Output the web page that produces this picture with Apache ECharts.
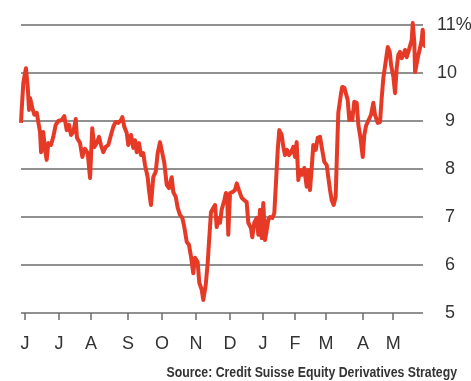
<!doctype html>
<html lang="en">
<head>
    <meta charset="utf-8">
    <title>Volatility - Credit Suisse</title>
    <script src="https://cdn.jsdelivr.net/npm/echarts@6.0.0/dist/echarts.min.js"></script>
    <style>
        html, body { margin: 0; padding: 0; background: #fff; }
        #main { width: 471px; height: 381px; }
    </style>
</head>
<body>
    <div id="main"></div>

    <script type="text/javascript">
    // days since the start of the series (one year, late May to late May)
    var days = [
        0, 0.6, 2.1, 4.5, 6.1, 7.3, 8.2, 10.3, 12.1, 14.3, 15.7, 17.3, 18.2, 20.2, 21.8, 23.3, 24.8,
        27.2, 29.3, 31.5, 33.9, 37.0, 39.3, 41.5, 43.6, 45.4, 47.5, 49.7, 50.8, 53.6, 55.7, 58.1,
        60.6, 62.7, 64.7, 66.6, 68.7, 70.8, 72.6, 74.7, 76.9, 79.3, 81.7, 83.8, 86.0, 88.3, 90.8,
        92.0, 93.8, 96.0, 97.4, 99.9, 102.0, 103.5, 105.1, 107.1, 109.0, 111.0, 112.6, 115.0, 116.2,
        118.0, 120.1, 122.3, 124.1, 126.2, 128.3, 130.1, 132.3, 134.4, 136.8, 138.3, 140.5, 142.3,
        144.4, 146.5, 148.3, 150.5, 152.5, 154.4, 156.4, 158.0, 160.4, 161.9, 164.1, 165.5, 167.7,
        169.5, 171.0, 172.5, 174.6, 176.2, 177.7, 179.1, 180.7, 182.2, 184.6, 186.1, 187.2, 188.2,
        189.8, 191.9, 194.3, 195.9, 197.9, 200.4, 202.8, 204.9, 206.4, 208.8, 210.0, 211.8, 214.0,
        215.5, 217.0, 218.6, 220.0, 221.6, 223.1, 224.5, 226.1, 228.2, 230.0, 231.3, 233.1, 234.5,
        236.7, 238.2, 239.7, 241.5, 243.3, 245.2, 247.2, 248.8, 250.3, 251.8, 253.3, 255.4, 257.2,
        259.4, 260.9, 262.4, 264.0, 265.4, 267.6, 269.4, 271.5, 273.0, 275.4, 277.6, 279.0, 280.6,
        282.1, 283.9, 285.7, 286.9, 288.1, 289.7, 290.6, 291.7, 293.6, 294.8, 296.6, 298.1, 299.6,
        300.8, 302.6, 304.8, 306.3, 308.1, 310.3, 311.7, 313.3, 314.8, 316.0, 317.8, 319.9, 321.4,
        323.9, 326.0, 327.5, 329.0, 331.1, 333.0, 334.8, 336.0, 338.1, 339.6, 341.1, 342.6, 344.1,
        345.7, 347.1, 348.7, 350.2, 351.7, 353.2, 354.8, 355.7, 357.1, 357.8, 359.3, 360.8, 362.3,
        363.8, 364.7, 366.2, 367.5
    ];
    // implied volatility, %
    var vol = [
        8.96, 9.23, 9.79, 10.1, 9.71, 9.23, 9.48, 9.27, 9.13, 9.17, 8.98, 8.77, 8.35, 8.77, 8.4, 8.19, 8.54,
        8.5, 8.67, 8.92, 9.0, 9.02, 9.1, 8.81, 8.92, 8.71, 8.77, 9.04, 8.65, 8.54, 8.25, 8.42,
        8.33, 7.81, 8.85, 8.46, 8.54, 8.67, 8.5, 8.35, 8.46, 8.5, 8.71, 8.88, 8.98, 8.96, 9.02,
        9.08, 8.88, 8.75, 8.5, 8.71, 8.44, 8.6, 8.35, 8.54, 8.29, 8.33, 8.08, 7.83, 7.56,
        7.25, 7.83, 7.94, 8.33, 8.56, 8.33, 8.13, 7.67, 7.6, 7.83, 7.52, 7.42, 7.19,
        7.04, 6.98, 6.79, 6.48, 6.42, 6.17, 5.83, 6.15, 6.06, 5.63, 5.48, 5.27, 5.58,
        6.04, 6.58, 7.1, 7.19, 7.25, 6.79, 6.98, 6.88, 7.15, 7.35, 7.5, 7.42, 6.63,
        7.5, 7.52, 7.56, 7.7, 7.56, 7.4, 7.35, 7.31, 6.88, 6.77, 6.58, 6.88, 6.98,
        6.63, 7.15, 6.56, 7.29, 6.52, 6.73, 6.94, 7.0, 6.98, 7.08, 7.63, 8.4, 8.81,
        8.71, 8.46, 8.29, 8.4, 8.29, 8.35, 8.46, 8.25, 8.56, 7.77, 7.98, 7.88, 8.02,
        7.63, 7.98, 7.56, 8.04, 8.5, 8.4, 8.65, 8.67, 8.46, 8.15, 8.08, 7.83, 7.56,
        7.35, 7.25, 7.42, 8.33, 9.17, 9.19, 9.58, 9.71, 9.69, 9.71, 9.44, 9.02, 9.17,
        9.02, 9.4, 9.38, 8.92, 8.67, 8.25, 8.71, 8.9, 8.98, 8.98, 9.13, 9.38, 9.13,
        8.96, 8.98, 9.48, 9.9, 10.23, 10.54, 10.44, 10.17, 9.92, 9.58, 10.1, 10.38, 10.44,
        10.31, 10.38, 10.48, 10.33, 10.44, 10.48, 10.69, 11.04, 10.65, 10.02, 10.02, 10.38, 10.52,
        10.69, 10.9, 10.58, 10.54
    ];
    var months = ['J', 'J', 'A', 'S', 'O', 'N', 'D', 'J', 'F', 'M', 'A', 'M'];
    var monthTicks = [3.6, 34.5, 63.6, 97.2, 128.1, 158.9, 189.8, 219.7, 248.8, 277, 310.6, 337.9];
    var yTicks = [5, 6, 7, 8, 9, 10, 11];

    var font = "'Liberation Sans', Arial, sans-serif";
    var gray = '#6b6b6b';

    var points = days.map(function (d, i) {
        return [d, vol[i]];
    });

    var chart = echarts.init(document.getElementById('main'), null, { renderer: 'canvas' });

    chart.setOption({
        animation: false,
        backgroundColor: '#fff',
        grid: {
            left: 21, right: 48, top: 25, bottom: 68,
            containLabel: false,
            outerBoundsMode: 'none'
        },
        xAxis: {
            type: 'value',
            min: 0,
            max: 365,
            axisLine: { show: false },
            splitLine: { show: false },
            axisTick: {
                show: true,
                length: 7,
                customValues: monthTicks,
                lineStyle: { color: gray, width: 1.5 }
            },
            axisLabel: {
                customValues: monthTicks,
                margin: 22,
                fontFamily: font,
                fontSize: 18,
                color: '#333',
                formatter: function (v) {
                    var i = monthTicks.indexOf(v);
                    return i >= 0 ? months[i] : '';
                }
            }
        },
        yAxis: {
            type: 'value',
            position: 'right',
            min: yTicks[0],
            max: yTicks[yTicks.length - 1],
            interval: 1,
            axisLine: { show: false },
            axisTick: { show: false },
            splitLine: { show: true, lineStyle: { color: gray, width: 1.5 } },
            axisLabel: {
                margin: 14,
                align: 'left',
                fontFamily: font,
                fontSize: 18,
                color: '#333',
                formatter: function (v) {
                    if (v === 11) return '11%';
                    if (v >= 10) return String(v);
                    return '{d|' + v + '}';
                },
                rich: {
                    d: { fontFamily: font, fontSize: 18, color: '#333', padding: [0, 0, 0, 8] }
                }
            }
        },
        graphic: [{
            type: 'text',
            x: 457,
            y: 365,
            scaleX: 0.82,
            style: {
                text: 'Source: Credit Suisse Equity Derivatives Strategy',
                font: 'bold 15px ' + font,
                fill: '#333',
                align: 'right',
                verticalAlign: 'top'
            }
        }],
        series: [{
            type: 'line',
            data: points,
            showSymbol: false,
            clip: false,
            lineStyle: { color: '#e63a27', width: 4, join: 'round' }
        }]
    });
    </script>
</body>
</html>
